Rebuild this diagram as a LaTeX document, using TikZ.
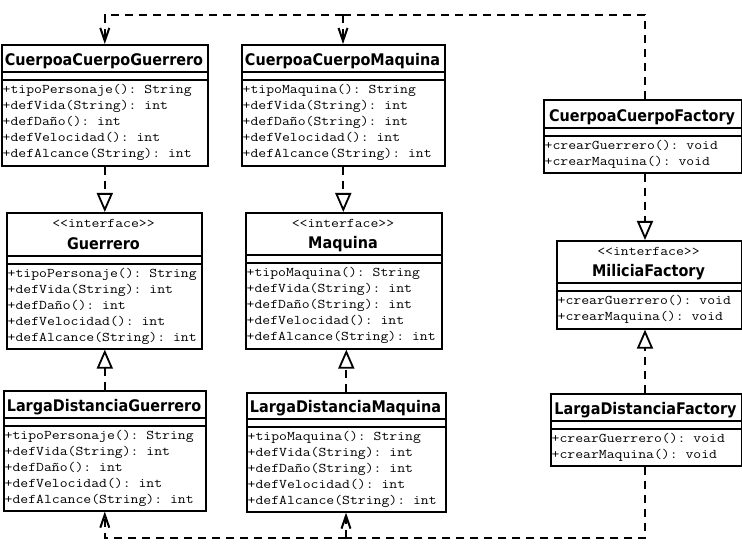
\documentclass[tikz,border=0pt]{standalone}
\usepackage{fontspec}
\setmonofont{Latin Modern Mono}[FakeStretch=1.15]
\newfontfamily\ttl{DejaVu Sans}[FakeStretch=0.9]
\usetikzlibrary{arrows.meta}
\tikzset{
  umlbox/.style={draw, line width=1.6pt, fill=white, inner sep=0pt, anchor=north west},
  compline/.style={line width=1.6pt},
  ttlt/.style={font=\ttl\bfseries\fontsize{16}{18}\selectfont, inner sep=0pt, anchor=base},
  meth/.style={font=\ttfamily\fontsize{13.3}{16}\selectfont, inner sep=0pt, anchor=base west},
  stereotxt/.style={font=\ttfamily\fontsize{13.3}{16}\selectfont, inner sep=0pt, anchor=base},
  dep/.style={line width=1.8pt, dash pattern=on 8pt off 6pt},
  deparrow/.style={dep, -{Straight Barb[length=13pt,width=9pt,line width=2pt]}},
  realiz/.style={dep, -{Triangle[open, length=19pt, width=16pt, fill=white]}},
}
\newcommand\umlclass[8]{%
  \pgfmathsetmacro\bw{#4-#2}%
  \pgfmathsetmacro\bh{#5-#3}%
  \pgfmathsetmacro\bx{(#2+#4)/2}%
  \pgfmathsetmacro\tb{#6-6.5}%
  \pgfmathsetmacro\mb{#7+13.5}%
  \pgfmathsetmacro\mx{#2+1.5}%
  \pgfmathsetmacro\sb{#3+16}%
  \node[umlbox, minimum width=\bw pt, minimum height=\bh pt] (#1) at (#2,#3) {};
  \draw[compline] (#2,#6) -- (#4,#6);
  \draw[compline] (#2,#7) -- (#4,#7);
  \node[ttlt] (#1-t) at (\bx,\tb) {#8};
}
\newcommand\umlstereo[2]{\node[stereotxt] (#1-s) at (\bx,\sb) {#2};}
\newcommand\umlmeths[2]{%
  \foreach \t [count=\i] in {#2} {%
    \pgfmathsetmacro\yy{\mb+16*(\i-1)}%
    \node[meth] (#1-m\i) at (\mx,\yy) {\t};
  }%
}
\begin{document}
\begin{tikzpicture}[x=1pt,y=-1pt]
\useasboundingbox (0,0) rectangle (742,556);
\fill[white] (0,0) rectangle (742,556);

% column 1
\umlclass{ccg}{1}{44}{207}{165}{72}{80}{CuerpoaCuerpoGuerrero}
\umlmeths{ccg}{{+tipoPersonaje(): String},{+defVida(String): int},{+defDaño(): int},{+defVelocidad(): int},{+defAlcance(String): int}}

\umlclass{gue}{6}{212}{201}{348}{256}{264}{Guerrero}
\umlstereo{gue}{<<interface>>}
\umlmeths{gue}{{+tipoPersonaje(): String},{+defVida(String): int},{+defDaño(): int},{+defVelocidad(): int},{+defAlcance(String): int}}

\umlclass{ldg}{3}{390}{205}{510}{418}{426}{LargaDistanciaGuerrero}
\umlmeths{ldg}{{+tipoPersonaje(): String},{+defVida(String): int},{+defDaño(): int},{+defVelocidad(): int},{+defAlcance(String): int}}

% column 2
\umlclass{ccm}{241}{44}{444}{165}{72}{80}{CuerpoaCuerpoMaquina}
\umlmeths{ccm}{{+tipoMaquina(): String},{+defVida(String): int},{+defDaño(String): int},{+defVelocidad(): int},{+defAlcance(String): int}}

\umlclass{maq}{245}{212}{441}{348}{255}{263}{Maquina}
\umlstereo{maq}{<<interface>>}
\umlmeths{maq}{{+tipoMaquina(): String},{+defVida(String): int},{+defDaño(String): int},{+defVelocidad(): int},{+defAlcance(String): int}}

\umlclass{ldm}{246}{392}{445}{511}{419}{427}{LargaDistanciaMaquina}
\umlmeths{ldm}{{+tipoMaquina(): String},{+defVida(String): int},{+defDaño(String): int},{+defVelocidad(): int},{+defAlcance(String): int}}

% column 3
\umlclass{ccf}{543}{99}{741}{172}{128}{136}{CuerpoaCuerpoFactory}
\umlmeths{ccf}{{+crearGuerrero(): void},{+crearMaquina(): void}}

\umlclass{mil}{556}{240}{741}{328}{283}{291}{MiliciaFactory}
\umlstereo{mil}{<<interface>>}
\umlmeths{mil}{{+crearGuerrero(): void},{+crearMaquina(): void}}

\umlclass{ldf}{550}{393}{741}{465}{421}{429}{LargaDistanciaFactory}
\umlmeths{ldf}{{+crearGuerrero(): void},{+crearMaquina(): void}}

% connectors
\coordinate (rx) at (645,0);
\coordinate (jt) at (343,15);
\coordinate (jb) at (346,538);

\draw[realiz] (ccg.south) -- (ccg.south |- gue.north);
\draw[realiz] (ccm.south) -- (ccm.south |- maq.north);
\draw[realiz] (ccf.south -| rx) -- (mil.north -| rx);
\draw[realiz] (ldg.north) -- (ldg.north |- gue.south);
\draw[realiz] (ldm.north) -- (ldm.north |- maq.south);
\draw[realiz] (ldf.north -| rx) -- (mil.south -| rx);

\draw[dep] (ccf.north -| rx) |- (jt);
\draw[deparrow] (jt) -| (ccg.north);
\draw[deparrow] (jt) -- (jt |- ccm.north);

\draw[dep] (ldf.south -| rx) |- (jb);
\draw[deparrow] (jb) -| (ldg.south);
\draw[deparrow] (jb) -- (jb |- ldm.south);
\end{tikzpicture}
\end{document}
